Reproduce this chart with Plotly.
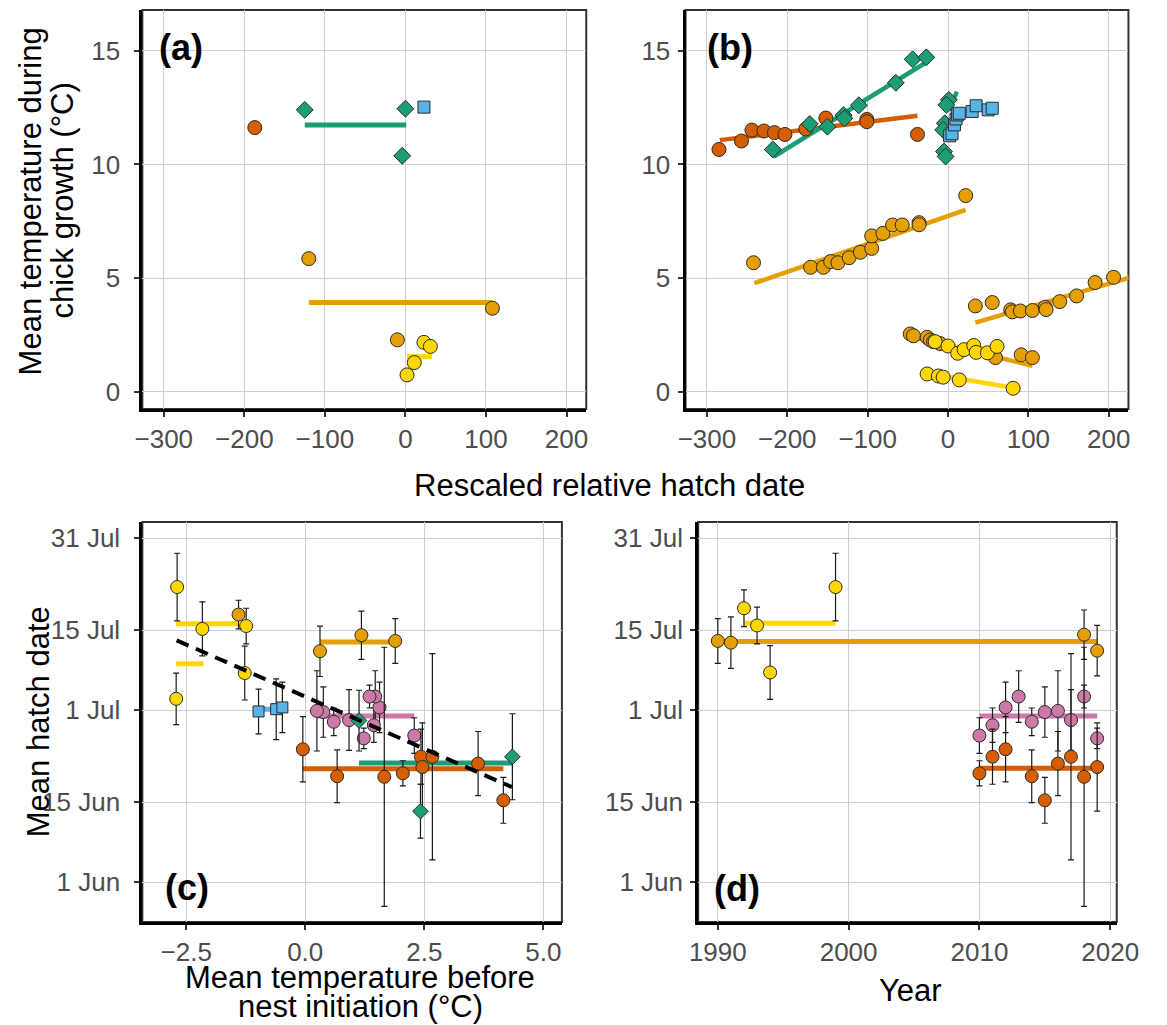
import plotly.graph_objects as go

W, H = 1167, 1025

# ---------------- Panel (a) ----------------
a_verm_x = [-187]
a_verm_y = [11.62]
a_green_x = [-125, 0, -4]
a_green_y = [12.40, 12.45, 10.38]
a_blue_x = [23]
a_blue_y = [12.52]
a_orange_x = [-120, 108, -10]
a_orange_y = [5.86, 3.68, 2.29]
a_yellow_x = [23, 31, 11, 2]
a_yellow_y = [2.18, 2.00, 1.29, 0.75]
a_seg_group = ["green", "orange", "yellow"]
a_seg_x0 = [-125, -120, 2]
a_seg_x1 = [1, 108, 33]
a_seg_y = [11.74, 3.93, 1.55]

# ---------------- Panel (b) ----------------
b_verm_x = [-285, -257, -244, -229, -216, -203, -177, -152, -101, -101, -38]
b_verm_y = [10.66, 11.03, 11.51, 11.47, 11.40, 11.32, 11.56, 12.04, 11.98, 11.88, 11.32]
b_green_x = [-218, -172, -150, -130, -129, -111, -65, -44, -27, 1, -2, -4, -6, -5, -3]
b_green_y = [10.66, 11.78, 11.66, 12.17, 12.03, 12.60, 13.59, 14.62, 14.71,
             12.84, 12.62, 11.81, 11.52, 10.57, 10.35]
b_blue_x = [2, 5, 8, 10, 12, 14, 30, 35, 50, 55]
b_blue_y = [11.26, 11.35, 11.74, 12.00, 12.18, 12.25, 12.33, 12.58, 12.40, 12.47]
b_orange_x = [-242, -171, -155, -146, -137, -123, -109, -95, -95, -81, -69, -57, -36, -36, 22,
              34, 55, 78, 80, 90, 105, 121, 122, 139, 160, 183, 206,
              -47, -43, -26, -22, -18, -10, 59, 91, 105]
b_orange_y = [5.68, 5.48, 5.48, 5.73, 5.68, 5.90, 6.14, 6.31, 6.86, 6.97, 7.34, 7.34, 7.44, 7.35, 8.63,
              3.78, 3.93, 3.61, 3.52, 3.56, 3.58, 3.72, 3.62, 3.97, 4.22, 4.81, 5.04,
              2.55, 2.47, 2.40, 2.28, 2.21, 2.13, 1.51, 1.63, 1.51]
b_yellow_x = [-16, 0, 12, 20, 32, 35, 49, 61, -26, -12, -6, 14, 81]
b_yellow_y = [2.21, 2.02, 1.70, 1.86, 2.04, 1.74, 1.72, 2.00, 0.79, 0.70, 0.65, 0.53, 0.16]
b_seg_group = ["verm", "green", "green", "orange", "orange", "orange", "yellow", "yellow"]
b_seg_x0 = [-284, -217, 1, -241, 34, -47, -16, -26]
b_seg_x1 = [-38, -28, 11, 22, 226, 105, 61, 81]
b_seg_y0 = [11.07, 10.34, 12.35, 4.78, 3.05, 2.45, 2.05, 0.82]
b_seg_y1 = [12.14, 14.47, 13.20, 8.00, 5.02, 1.15, 1.88, 0.18]

# ---------------- Panels (c) and (d) ----------------
# hatch dates as day of year (1 Jun = 152)
date_tick_vals = [152, 166, 182, 196, 212]
date_tick_text = ["1 Jun", "15 Jun", "1 Jul", "15 Jul", "31 Jul"]

pink_year = [2010, 2011, 2012, 2013, 2014, 2015, 2016, 2017, 2018, 2019]
pink_temp = [2.29, 1.44, 1.56, 1.47, 0.60, 0.38, 0.245, 0.92, 1.35, 1.23]
pink_hatch = [177.6, 179.4, 182.5, 184.4, 180.0, 181.7, 181.9, 180.3, 184.4, 177.1]
pink_err = [3.1, 3.0, 4.4, 4.5, 2.4, 4.4, 7.0, 5.3, 2.0, 1.8]

verm_year = [2010, 2011, 2012, 2014, 2015, 2016, 2017, 2018, 2019]
verm_temp = [2.05, 2.43, -0.05, 0.67, 4.16, 3.63, 2.67, 1.66, 2.46]
verm_hatch = [171.0, 173.9, 175.2, 170.5, 166.3, 172.7, 173.9, 170.4, 172.1]
verm_err = [2.2, 4.8, 5.7, 4.6, 4.0, 5.6, 18.0, 22.6, 7.7]

c_yellow_temp = [-2.69, -2.16, -1.24, -1.27, -2.71]
c_yellow_hatch = [203.5, 196.2, 196.7, 188.5, 184.0]
c_yellow_err = [5.9, 4.7, 3.1, 4.7, 4.5]
c_orange_temp = [-1.40, 0.31, 1.18, 1.89]
c_orange_hatch = [198.7, 192.3, 195.1, 194.1]
c_orange_err = [2.5, 4.4, 4.2, 3.9]
c_blue_temp = [-0.98, -0.61, -0.48]
c_blue_hatch = [181.8, 182.2, 182.5]
c_blue_err = [3.9, 5.3, 4.4]
c_green_temp = [1.13, 2.42, 4.35]
c_green_hatch = [180.2, 164.4, 173.9]
c_green_err = [5.3, 4.7, 7.5]
c_seg_group = ["yellow", "yellow", "orange", "blue", "pink", "verm", "green"]
c_seg_x0 = [-2.71, -2.71, 0.31, -0.98, 0.245, -0.05, 1.13]
c_seg_x1 = [-1.39, -2.14, 1.89, -0.48, 2.29, 4.16, 4.35]
c_seg_y = [197.1, 190.1, 193.9, 182.2, 181.0, 171.8, 172.8]
c_trend_x = [-2.70, 4.34]
c_trend_y = [194.2, 168.6]

d_yellow_year = [1992, 1993, 1994, 1999]
d_yellow_hatch = [199.8, 196.8, 188.6, 203.5]
d_yellow_err = [3.2, 3.2, 4.7, 5.9]
d_orange_year = [1990, 1991, 2018, 2019]
d_orange_hatch = [194.1, 193.8, 195.2, 192.4]
d_orange_err = [3.9, 4.5, 4.3, 4.4]
d_seg_group = ["yellow", "orange", "pink", "verm"]
d_seg_x0 = [1992, 1990, 2010, 2010]
d_seg_x1 = [1999, 2019, 2019, 2019]
d_seg_y = [197.2, 194.0, 181.0, 171.9]

# ---------------- styling ----------------
COL = {"verm": "#D55E00", "orange": "#E69F00", "yellow": "#FFD700",
       "green": "#1B9E77", "blue": "#56B4E9", "pink": "#CC79A7"}
FONT = "Liberation Sans, Arial, sans-serif"

fig = go.Figure()


def segs(x0s, x1s, y0s, y1s, color, width, xa, ya, dash=None):
    xs, ys = [], []
    for x0, x1, y0, y1 in zip(x0s, x1s, y0s, y1s):
        xs += [x0, x1, None]
        ys += [y0, y1, None]
    fig.add_trace(go.Scatter(x=xs, y=ys, mode="lines", xaxis=xa, yaxis=ya,
                             line=dict(color=color, width=width, dash=dash),
                             hoverinfo="skip", showlegend=False))


def pts(x, y, color, symbol, size, xa, ya, err=None):
    kw = {}
    if err is not None:
        kw["error_y"] = dict(type="data", array=err, color="#1a1a1a",
                             thickness=1.2, width=3, visible=True)
    fig.add_trace(go.Scatter(x=x, y=y, mode="markers", xaxis=xa, yaxis=ya,
                             marker=dict(color=color, symbol=symbol, size=size,
                                         line=dict(color="#2b2b2b", width=1)),
                             showlegend=False, **kw))


def group_segs(groups, x0, x1, y0, y1, width, xa, ya):
    for g in dict.fromkeys(groups):
        idx = [i for i, gg in enumerate(groups) if gg == g]
        segs([x0[i] for i in idx], [x1[i] for i in idx],
             [y0[i] for i in idx], [y1[i] for i in idx], COL[g], width, xa, ya)


# (a)
group_segs(a_seg_group, a_seg_x0, a_seg_x1, a_seg_y, a_seg_y, 5, "x", "y")
pts(a_verm_x, a_verm_y, COL["verm"], "circle", 14, "x", "y")
pts(a_orange_x, a_orange_y, COL["orange"], "circle", 14, "x", "y")
pts(a_yellow_x, a_yellow_y, COL["yellow"], "circle", 14, "x", "y")
pts(a_green_x, a_green_y, COL["green"], "diamond", 13, "x", "y")
pts(a_blue_x, a_blue_y, COL["blue"], "square", 12, "x", "y")

# (b)
group_segs(b_seg_group, b_seg_x0, b_seg_x1, b_seg_y0, b_seg_y1, 4.5, "x2", "y2")
pts(b_verm_x, b_verm_y, COL["verm"], "circle", 14, "x2", "y2")
pts(b_orange_x, b_orange_y, COL["orange"], "circle", 14, "x2", "y2")
pts(b_yellow_x, b_yellow_y, COL["yellow"], "circle", 14, "x2", "y2")
pts(b_green_x, b_green_y, COL["green"], "diamond", 13, "x2", "y2")
pts(b_blue_x, b_blue_y, COL["blue"], "square", 12, "x2", "y2")

# (c)
group_segs(c_seg_group, c_seg_x0, c_seg_x1, c_seg_y, c_seg_y, 5, "x3", "y3")
pts(c_yellow_temp, c_yellow_hatch, COL["yellow"], "circle", 13, "x3", "y3", c_yellow_err)
pts(c_orange_temp, c_orange_hatch, COL["orange"], "circle", 13, "x3", "y3", c_orange_err)
pts(c_blue_temp, c_blue_hatch, COL["blue"], "square", 11, "x3", "y3", c_blue_err)
pts(pink_temp, pink_hatch, COL["pink"], "circle", 13, "x3", "y3", pink_err)
pts(verm_temp, verm_hatch, COL["verm"], "circle", 13, "x3", "y3", verm_err)
pts(c_green_temp, c_green_hatch, COL["green"], "diamond", 12, "x3", "y3", c_green_err)
fig.add_trace(go.Scatter(x=c_trend_x, y=c_trend_y, mode="lines", xaxis="x3", yaxis="y3",
                         line=dict(color="black", width=4, dash="13px,8px"),
                         hoverinfo="skip", showlegend=False))

# (d)
group_segs(d_seg_group, d_seg_x0, d_seg_x1, d_seg_y, d_seg_y, 5, "x4", "y4")
pts(d_yellow_year, d_yellow_hatch, COL["yellow"], "circle", 13, "x4", "y4", d_yellow_err)
pts(d_orange_year, d_orange_hatch, COL["orange"], "circle", 13, "x4", "y4", d_orange_err)
pts(pink_year, pink_hatch, COL["pink"], "circle", 13, "x4", "y4", pink_err)
pts(verm_year, verm_hatch, COL["verm"], "circle", 13, "x4", "y4", verm_err)


def xd(a, b):
    return [a / W, b / W]


def yd(a, b):
    return [1 - b / H, 1 - a / H]


def ax(domain, rng, tickvals, ticktext=None, tickformat=None, standoff=4, anchor=None):
    d = dict(domain=domain, range=rng, tickvals=tickvals, showline=True, linecolor="black",
             linewidth=3, mirror=False, ticks="outside", ticklen=5, tickwidth=2,
             tickcolor="#333333", showgrid=True, gridcolor="#cfcfcf", gridwidth=1.3,
             zeroline=False, tickfont=dict(family=FONT, size=26, color="#4d4d4d"),
             ticklabelstandoff=standoff, anchor=anchor, fixedrange=True)
    if ticktext is not None:
        d["ticktext"] = ticktext
    if tickformat is not None:
        d["tickformat"] = tickformat
    return d


top = yd(10, 409)
bot = yd(522, 922)
temp_ticks = [0, 5, 10, 15]
hd_ticks = [-300, -200, -100, 0, 100, 200]

fig.update_layout(
    width=W, height=H, margin=dict(l=0, r=0, t=0, b=0),
    paper_bgcolor="white", plot_bgcolor="white", showlegend=False,
    font=dict(family=FONT),
    xaxis=ax(xd(137, 593), [-326.6, 224.5], hd_ticks, anchor="y", standoff=0),
    yaxis=ax(top, [-0.75, 16.79], temp_ticks, anchor="x", standoff=9),
    xaxis2=ax(xd(695, 1150), [-326.6, 224.5], hd_ticks, anchor="y2", standoff=0),
    yaxis2=ax(top, [-0.75, 16.79], temp_ticks, anchor="x2", standoff=2),
    xaxis3=ax(xd(137, 568), [-3.42, 5.39], [-2.5, 0, 2.5, 5.0], tickformat=".1f", anchor="y3", standoff=0),
    yaxis3=ax(bot, [145.07, 214.85], date_tick_vals, ticktext=date_tick_text, anchor="x3", standoff=9),
    xaxis4=ax(xd(708, 1138), [1988.5, 2020.5], [1990, 2000, 2010, 2020], anchor="y4", standoff=0),
    yaxis4=ax(bot, [145.07, 214.85], date_tick_vals, ticktext=date_tick_text, anchor="x4", standoff=2),
)

# panel frames
for i in ["", "2", "3", "4"]:
    fig.add_shape(type="rect", xref=f"x{i} domain", yref=f"y{i} domain",
                  x0=0, x1=1, y0=0, y1=1, line=dict(color="#333333", width=2),
                  layer="below")


def ann(text, x, y, size, angle=0, bold=False, xanchor="center"):
    fig.add_annotation(text=f"<b>{text}</b>" if bold else text, x=x / W, y=1 - y / H,
                       xref="paper", yref="paper", showarrow=False, textangle=angle,
                       xanchor=xanchor, yanchor="middle", borderpad=0,
                       font=dict(family=FONT, size=size, color="black"))


ann("(a)", 153, 47, 36, bold=True, xanchor="left")
ann("(b)", 716, 47, 36, bold=True, xanchor="left")
ann("(c)", 159, 887, 36, bold=True, xanchor="left")
ann("(d)", 723, 888, 36, bold=True, xanchor="left")

ann("Mean temperature during", 23, 201, 31, angle=-90)
ann("chick growth (°C)", 55, 201, 31, angle=-90)
ann("Rescaled relative hatch date", 617, 485, 31)
ann("Mean hatch date", 30, 722, 31, angle=-90)
ann("Mean temperature before", 361, 977, 31)
ann("nest initiation (°C)", 361, 1006, 31)
ann("Year", 926, 990, 31)

fig.write_html("out.html", config={"displayModeBar": False},
               post_script="document.body.style.margin='0px';document.body.style.padding='0px';")
